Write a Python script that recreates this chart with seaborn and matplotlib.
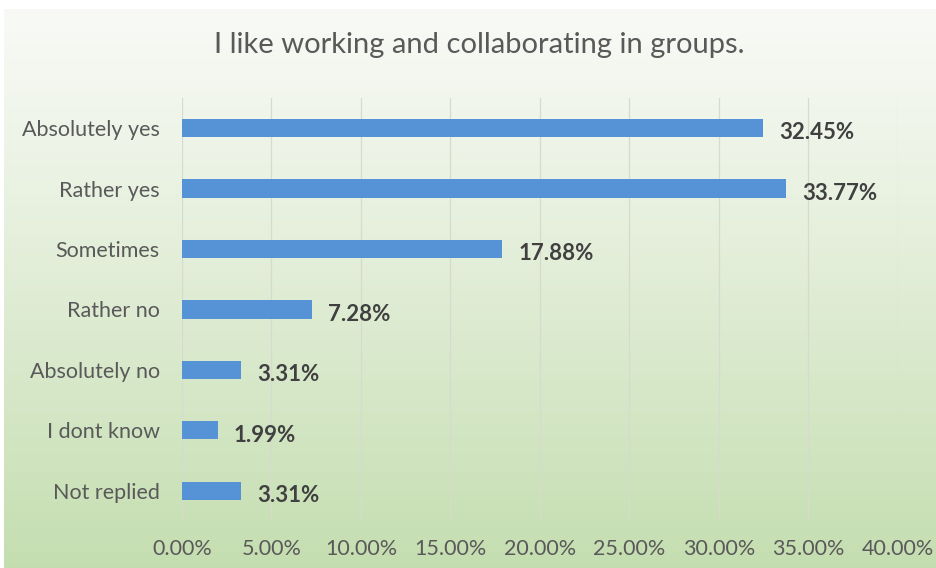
import numpy as np
import pandas as pd
import seaborn as sns
import matplotlib.pyplot as plt

# Data
categories = ['Absolutely yes', 'Rather yes', 'Sometimes', 'Rather no',
              'Absolutely no', 'I dont know', 'Not replied']
percent = [32.45, 33.77, 17.88, 7.28, 3.31, 1.99, 3.31]
xticks = [0, 5, 10, 15, 20, 25, 30, 35, 40]

df = pd.DataFrame({'answer': categories, 'pct': percent})

sns.set_style('white')
plt.rcParams['font.family'] = ['Lato', 'DejaVu Sans']

fig = plt.figure(figsize=(9.36, 5.68), dpi=100)

# green gradient background, light at the top
bg = fig.add_axes([0.004, 0, 0.996, 0.985], zorder=-10)
grad = np.linspace(0, 1, 256).reshape(-1, 1)
top = np.array([0.975, 0.98, 0.965])
bottom = np.array([0.77, 0.87, 0.69])
img = top + (bottom - top) * grad[..., None] ** 1.1
bg.imshow(img, aspect='auto', extent=[0, 1, 0, 1])
bg.axis('off')

ax = fig.add_axes([0.1944, 0.0827, 0.765, 0.745])
ax.patch.set_alpha(0)
sns.barplot(data=df, x='pct', y='answer', color='#5592d6', width=0.3,
            saturation=1, linewidth=0, ax=ax)

ax.set_xlim(0, 40)
ax.set_xticks(xticks)
ax.set_xticklabels([f'{t:.2f}%' for t in xticks])
ax.grid(axis='x', color='#d5dccd', linewidth=0.9)
ax.set_axisbelow(True)
for s in ax.spines.values():
    s.set_visible(False)
ax.tick_params(axis='both', length=0, labelsize=15.5, colors='#595959')
ax.tick_params(axis='y', pad=16)
ax.tick_params(axis='x', pad=13)
ax.set_xlabel('')
ax.set_ylabel('')

for i, v in enumerate(percent):
    ax.text(v + 0.9, i + 0.08, f'{v:.2f}%', va='center', ha='left',
            fontsize=16, fontweight='bold', color='#404040')

fig.text(0.512, 0.92, 'I like working and collaborating in groups.',
         ha='center', va='center', fontsize=21, color='#595959')

fig.savefig('out.png', dpi=100)
